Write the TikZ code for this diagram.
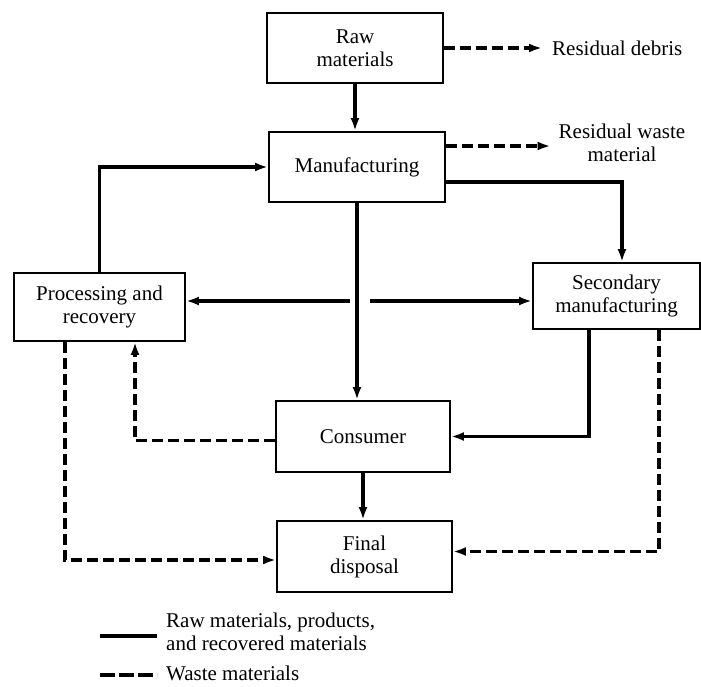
\documentclass[tikz,border=0pt]{standalone}
\usepackage{fontspec}
\setmainfont{Liberation Serif}
\usetikzlibrary{arrows.meta,calc}
\begin{document}
\begin{tikzpicture}[x=1pt,y=-1pt,
  txt/.style={font=\fontsize{21}{23}\selectfont},
  box/.style={txt,draw,line width=1.9pt,inner sep=0pt,align=center},
  flow/.style={line width=3.3pt,-{Latex[length=13pt,width=9pt]}},
  waste/.style={line width=3.3pt,dash pattern=on 11pt off 5pt,-{Latex[length=13pt,width=9pt]}},
  lbl/.style={txt,inner sep=0pt}]
\useasboundingbox (0,0) rectangle (701,686);
\fill[white] (0,0) rectangle (701,686);
% boxes
\node[box,minimum width=176pt,minimum height=70pt] (raw) at (355,48) {Raw\\materials};
\node[box,minimum width=176pt,minimum height=70pt] (manu) at (357,167) {Manufacturing};
\node[box,minimum width=171pt,minimum height=68pt] (proc) at (99.5,307) {Processing and\\recovery};
\node[box,minimum width=167pt,minimum height=66pt] (sec) at (616.5,296) {Secondary\\manufacturing};
\node[box,minimum width=174pt,minimum height=71pt] (cons) at (363,436.5) {Consumer};
\node[box,minimum width=175pt,minimum height=71pt] (fin) at (364.5,556.5) {Final\\disposal};
% side labels
\node[lbl,anchor=west] (debris) at (552,48) {Residual debris};
\node[lbl,align=center] (resw) at (622,143) {Residual waste\\material};
% solid flows
\draw[flow] (raw.south) -- (raw.south |- manu.north);
\draw[flow] (manu.south) -- (manu.south |- cons.north);
\coordinate (sl) at (350,301);
\coordinate (sr) at (370,301);
\draw[flow] (sl) -- (sl -| proc.east);
\draw[flow] (sr) -- (sr -| sec.west);
\draw[flow] (proc.north) |- (manu.west);
\draw[flow] ($(manu.east)+(0,15)$) -| ($(sec.north)+(5.5,0)$);
\draw[flow] ($(sec.south)+(-27.5,0)$) |- (cons.east);
\draw[flow] (cons.south) -- (cons.south |- fin.north);
% waste flows
\coordinate (mw) at ($(manu.east)+(0,-21)$);
\draw[waste,shorten >=10pt] (raw.east) -- (debris.west);
\draw[waste,shorten >=8pt] (mw) -- (mw -| resw.west);
\draw[waste] ($(cons.west)+(0,4)$) -| ($(proc.south)+(35.5,0)$);
\draw[waste] ($(proc.south)+(-34.5,0)$) |- ($(fin.west)+(0,3.5)$);
\draw[waste] ($(sec.south)+(42.5,0)$) |- ($(fin.east)+(0,-5)$);
% legend
\node[lbl,anchor=west,align=left] (leg1) at (166,632) {Raw materials, products,\\and recovered materials};
\node[lbl,anchor=west] (leg2) at (166,673) {Waste materials};
\coordinate (l1) at (100,636);
\coordinate (l2) at (100,675);
\draw[line width=3.3pt,shorten >=9pt] (l1) -- (l1 -| leg1.west);
\draw[line width=3.3pt,dash pattern=on 15pt off 4pt,shorten >=9pt] (l2) -- (l2 -| leg2.west);
\end{tikzpicture}
\end{document}
